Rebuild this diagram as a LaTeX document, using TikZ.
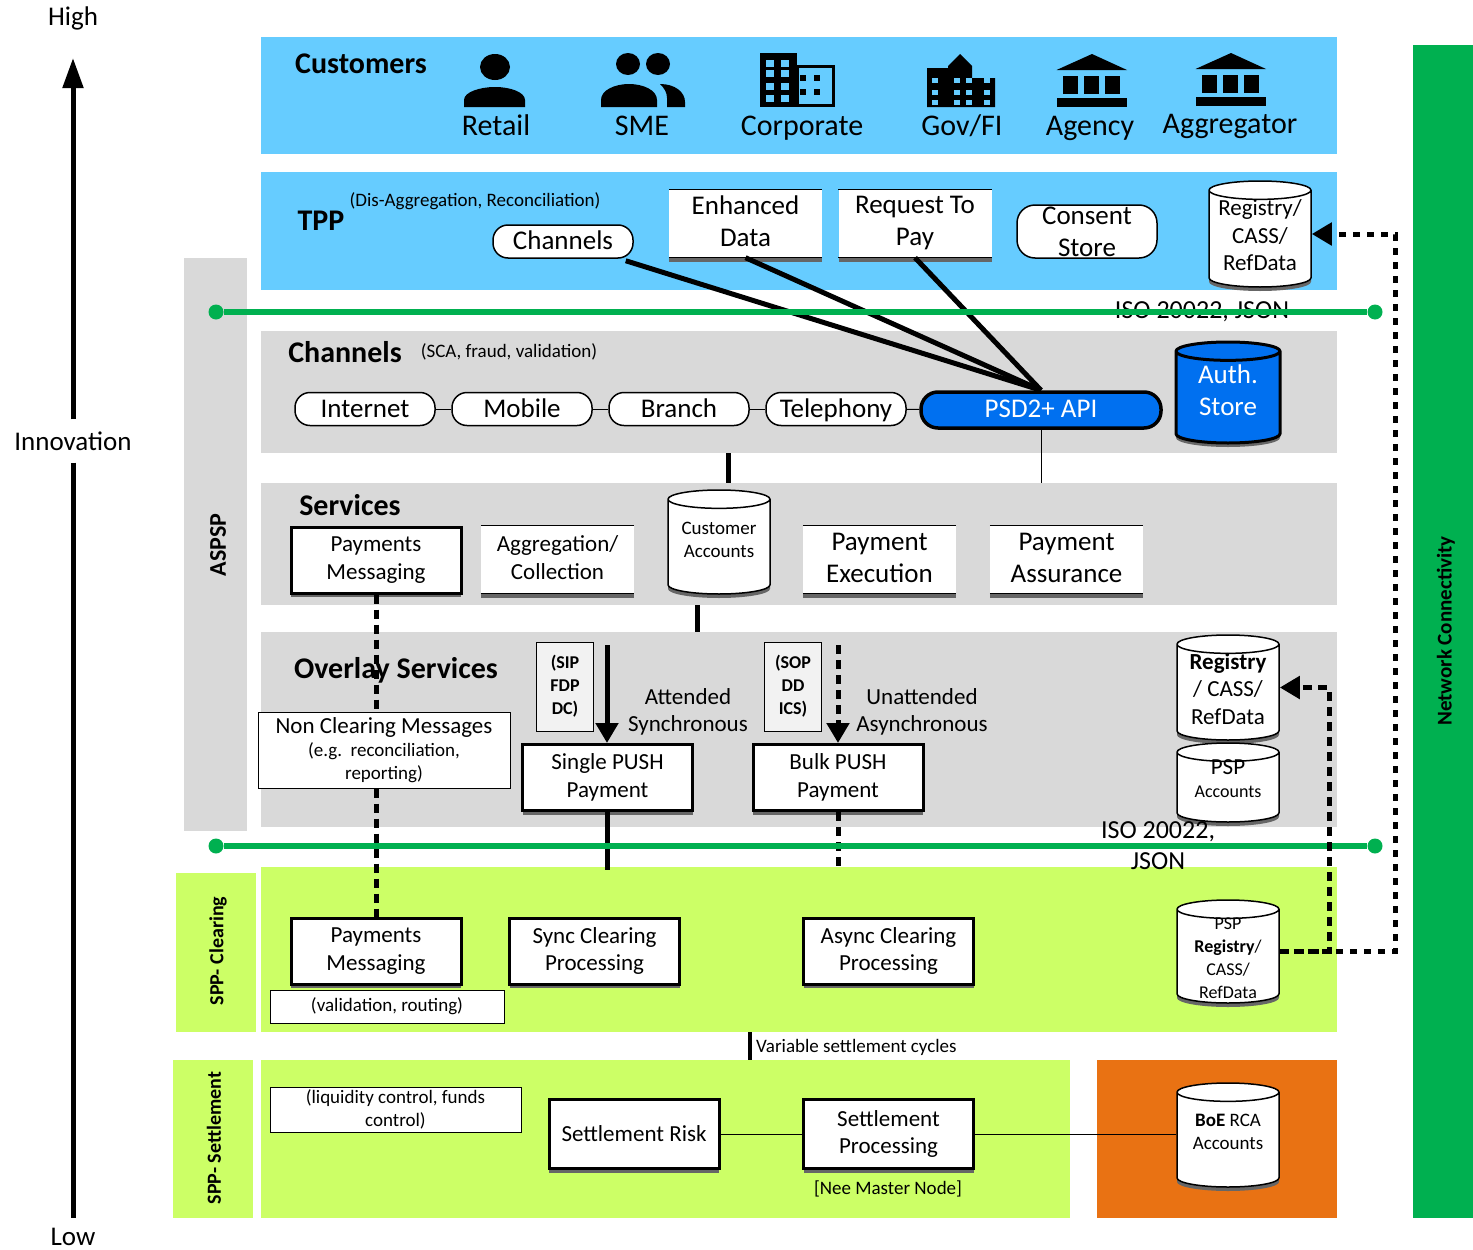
\documentclass[tikz,border=0pt]{standalone}
\usepackage{fontspec}
\setmainfont{Carlito}
\usetikzlibrary{arrows.meta,shapes.geometric,shadows}
\definecolor{skyp}{HTML}{66CCFF}
\definecolor{greyp}{HTML}{D9D9D9}
\definecolor{limep}{HTML}{CCFF66}
\definecolor{netgreen}{HTML}{00B050}
\definecolor{orangep}{HTML}{E97213}
\definecolor{apiblue}{HTML}{0070F0}
\tikzset{
 panel/.style={inner sep=0pt,outer sep=0pt},
 txtl/.style={font=\fontsize{27}{32}\selectfont},
 txtm/.style={font=\fontsize{23}{27.5}\selectfont},
 txts/.style={font=\fontsize{19}{23}\selectfont},
 custname/.style={font=\fontsize{30}{34}\selectfont,text height=20pt,text depth=7pt},
 heading/.style={font=\fontsize{30}{34}\selectfont\bfseries},
 sidelabel/.style={font=\fontsize{21}{24}\selectfont\bfseries,rotate=90},
 botshadow/.style={drop shadow={shadow xshift=0pt,shadow yshift=-4pt,fill=black!60,opacity=1}},
 thickbox/.style={draw,line width=3pt,fill=white,align=center,inner sep=0pt,minimum width=170pt,minimum height=66pt,botshadow,txtm},
 openbox/.style={fill=white,align=center,inner sep=0pt,minimum width=153pt,minimum height=68pt,botshadow,txtl,execute at end node=\rule[-4pt]{0pt}{0pt}},
 notebox/.style={draw,line width=1pt,fill=white,align=center,inner sep=0pt,txts},
 tagbox/.style={draw,line width=1pt,fill=black!5,align=center,inner sep=0pt,minimum width=57pt,minimum height=89pt,font=\fontsize{18}{23}\selectfont\bfseries},
 pillbox/.style={draw,line width=1.5pt,fill=white,rounded corners=15pt,align=center,inner sep=0pt,txtl},
 linepill/.style={pillbox,minimum width=140pt,minimum height=33pt,text height=22pt,text depth=6pt},
 dbcyl/.style={cylinder,anchor=shape center,shape border rotate=90,shape aspect=.18,draw,line width=1.5pt,fill=white,inner sep=0pt,minimum width=102pt,botshadow,execute at begin node=\rule{102pt}{0pt}},
 thinline/.style={line width=1pt},
 heavyline/.style={line width=5pt},
 dashline/.style={line width=5pt,dash pattern=on 9pt off 6pt},
 dotline/.style={line width=5pt,dash pattern=on 7pt off 7pt},
 greenline/.style={line width=5.5pt,netgreen},
 greendot/.style={circle,fill=netgreen,inner sep=0pt,minimum size=15pt},
 >={Triangle[length=20pt,width=22pt]}
}
\begin{document}
\begin{tikzpicture}[x=1pt,y=-1pt]
 \useasboundingbox (0,0) rectangle (1473,1250);
 % panels
 \foreach \pname/\px/\py/\pw/\ph/\pc in {
  custp/799/95.5/1076/117/skyp, tppp/799/231/1076/118/skyp,
  chanp/799/392/1076/122/greyp, svcp/799/544/1076/122/greyp,
  ovlp/799/729.5/1076/195/greyp, aspspp/215.5/544.5/63/573/greyp,
  netp/1443/631.5/60/1173/netgreen, clrsp/216/952.5/80/159/limep,
  clrp/799/949.5/1076/165/limep, setsp/213/1139/80/158/limep,
  setp/665.5/1139/809/158/limep, boep/1217/1139/240/158/orangep}
  \node[panel,fill=\pc,minimum width=\pw pt,minimum height=\ph pt] (\pname) at (\px,\py) {};
 \node[sidelabel,font=\fontsize{24}{28}\selectfont\bfseries] (aspsplab) at (218,545) {ASPSP};
 \node[sidelabel] (netlab) at (1446,631) {Network Connectivity};
 \node[sidelabel,font=\fontsize{20}{24}\selectfont\bfseries] (clrlab) at (218,951) {SPP- Clearing};
 \node[sidelabel,font=\fontsize{20}{24}\selectfont\bfseries] (setlab) at (214,1138) {SPP- Settlement};
 % axis
 \node[txtl] (high) at (73,18) {High};
 \node[txtl,inner ysep=12pt] (innov) at (73,441) {Innovation};
 \node[txtl] (low) at (73,1237) {Low};
 \coordinate (axistop) at (73,58);
 \coordinate (axisend) at (73,1218);
 \draw[line width=5pt,-{Triangle[length=30pt,width=20pt]}] (innov) -- (axistop);
 \draw[line width=5pt] (innov) -- (axisend);
 % customers
 \node[heading] (custlab) at (361,64) {Customers};
 \node[custname] (retail) at (496,128.5) {Retail};
 \node[custname] (sme) at (642,128.5) {SME};
 \node[custname] (corp) at (802,128.5) {Corporate};
 \node[custname] (gov) at (962,128.5) {Gov/FI};
 \node[custname] (agency) at (1090,128.5) {Agency};
 \node[custname] (aggr) at (1230,126.5) {Aggregator};
 % icons
 \fill (495,67) ellipse (15 and 13);
 \fill (464,107) -- (464,100) .. controls (464,92) and (480,87) .. (495,87) .. controls (510,87) and (525,92) .. (525,100) -- (525,107) -- cycle;
 \fill (628,64) ellipse (12 and 11);
 \fill (658,64) ellipse (12 and 11);
 \fill (601,107) -- (601,100) .. controls (601,90) and (615,84) .. (629,84) .. controls (643,84) and (657,90) .. (657,100) -- (657,107) -- cycle;
 \fill (660,84) .. controls (675,84) and (685,92) .. (685,102) -- (685,107) -- (667,107) -- (667,98) .. controls (667,92) and (664,88) .. (660,84) -- cycle;
 \fill (760,53) rectangle (797,107);
 \draw[line width=3pt] (797,66.5) rectangle (833.5,105.5);
 \foreach \wy in {60,70,83,95} \foreach \wx in {766,781}
  \fill[skyp] (\wx,\wy) rectangle +(8,7);
 \foreach \wy in {75,89} \foreach \wx in {800,814}
  \fill (\wx,\wy) rectangle +(6,6);
 \fill (927,68) -- (948,68) -- (948,66) -- (960,54) -- (972,66) -- (972,78) -- (995,78) -- (995,107) -- (927,107) -- cycle;
 \foreach \wy in {78,90,100} \foreach \wx in {932,954,966,984}
  \fill[skyp] (\wx,\wy) rectangle +(6,5);
 \foreach \bx/\by in {0/0,139/-1} {
  \begin{scope}[shift={(\bx,\by)}]
   \fill (1056.5,70) -- (1092,54) -- (1127,70) -- cycle;
   \foreach \cx in {1063,1084,1105} \fill (\cx,76) rectangle +(15,18);
   \fill (1056.5,98) rectangle (1127,107);
  \end{scope}
 }
 % tpp
 \node[heading] (tpplab) at (321,221) {TPP};
 \node[txts] (tppnote) at (475,201) {(Dis-Aggregation, Reconciliation)};
 \node[linepill] (chan) at (563,241.5) {Channels};
 \node[openbox] (enh) at (745.5,223.5) {Enhanced\\Data};
 \node[openbox] (req) at (915,223.5) {Request To\\Pay};
 \node[pillbox,minimum width=140pt,minimum height=53pt,rounded corners=18pt] (cons) at (1087,231.5) {Consent\\Store};
 \node[dbcyl,minimum height=106pt,label={[align=center,txtm,yshift=3.5pt]center:Registry/\\CASS/\\RefData}] (tppreg) at (1260,234) {};
 % channels
 \node[heading] (chanlab) at (345,352) {Channels};
 \node[txts] (channote) at (509,352) {(SCA, fraud, validation)};
 \node[linepill] (inet) at (365,409) {Internet};
 \node[linepill] (mob) at (522,409) {Mobile};
 \node[linepill] (branch) at (679,409) {Branch};
 \node[linepill] (tel) at (836,409) {Telephony};
 \node[pillbox,draw,line width=3.5pt,fill=apiblue,text=white,minimum width=240pt,minimum height=36pt,rounded corners=17pt,text height=20pt,text depth=6pt] (psd) at (1041,410) {PSD2+ API};
 \node[dbcyl,minimum height=101pt,minimum width=104pt,fill=apiblue,line width=3pt,label={[align=center,txtl,text=white,yshift=7.5pt]center:Auth.\\Store}] (auth) at (1228,392.5) {};
 \draw[thinline] (inet) -- (mob);
 \draw[thinline] (mob) -- (branch);
 \draw[thinline] (branch) -- (tel);
 \draw[thinline] (tel) -- (psd);
 \coordinate (apidrop) at (1041,483);
 \draw[thinline] (psd.south) -- (apidrop);
 \coordinate (chanbot) at (728,453);
 \coordinate (svctop) at (728,483);
 \draw[heavyline] (chanbot) -- (svctop);
 \coordinate (svcbot) at (697,605);
 \coordinate (ovltop) at (697,632);
 \draw[heavyline] (svcbot) -- (ovltop);
 % tpp to api, then the first iso line over them
 \draw[heavyline] ([xshift=-8pt,yshift=-2pt]chan.south east) -- (psd.north);
 \draw[heavyline] (enh.south) -- (psd.north);
 \draw[heavyline] (req.south) -- (psd.north);
 \node[font=\fontsize{26}{31}\selectfont] (iso1) at (1202,311.5) {ISO 20022, JSON};
 \node[greendot] (g1a) at (216,312) {};
 \node[greendot] (g1b) at (1375,312) {};
 \draw[greenline] (g1a) -- (g1b);
 % services
 \node[heading] (svclab) at (350,505) {Services};
 \node[thickbox] (pay1) at (376,560) {Payments\\Messaging};
 \node[openbox,txtm] (aggc) at (557.5,559.5) {Aggregation/\\Collection};
 \node[dbcyl,minimum height=104pt,label={[align=center,txts,yshift=7.5pt]center:Customer\\Accounts}] (custacc) at (719,542) {};
 \node[openbox] (exec) at (879.5,559.5) {Payment\\Execution};
 \node[openbox] (assur) at (1066.5,559.5) {Payment\\Assurance};
 \foreach \boxn in {enh,req,aggc,exec,assur} {
  \draw[line width=1.5pt] (\boxn.north west) -- (\boxn.north east);
  \draw[line width=1.5pt] (\boxn.south west) -- (\boxn.south east);
 }
 % overlay
 \node[heading] (ovllab) at (396,670) {Overlay Services};
 \node[notebox,minimum width=252pt,minimum height=76pt] (ncm) at (384,750) {{\fontsize{23}{25}\selectfont Non Clearing Messages}\\(e.g.\ \ reconciliation,\\reporting)};
 \node[tagbox] (sip) at (565,686.5) {(SIP\\FDP\\DC)};
 \node[tagbox] (sop) at (793,686.5) {(SOP\\DD\\ICS)};
 \node[txtm,align=center] (sync) at (688,712) {Attended\\Synchronous};
 \node[txtm,align=center] (async) at (922,712) {Unattended\\Asynchronous};
 \node[thickbox] (single) at (607.5,777.5) {Single PUSH\\Payment};
 \node[thickbox] (bulk) at (838,777.5) {Bulk PUSH\\Payment};
 \node[dbcyl,minimum height=105pt,label={[align=center,txtm,yshift=3.5pt]center:\textbf{Registry}\\/ CASS/\\RefData}] (ovlreg) at (1228,687.5) {};
 \node[dbcyl,minimum height=79pt,label={[align=center,font=\fontsize{18}{23}\selectfont,yshift=8.5pt]center:{\fontsize{23}{25}\selectfont PSP}\\Accounts}] (pspacc) at (1228,782.5) {};
 \coordinate (sipstart) at (607,645);
 \coordinate (sopstart) at (838,645);
 \draw[heavyline,->] (sipstart) -- (single.north -| sipstart);
 \draw[dashline,->] (sopstart) -- (bulk.north);
 % clearing
 \node[thickbox] (pay2) at (376,951) {Payments\\Messaging};
 \node[notebox,minimum width=234pt,minimum height=33pt] (valid) at (387,1006.5) {(validation, routing)};
 \node[thickbox] (syncclr) at (594.5,951) {Sync Clearing\\Processing};
 \node[thickbox] (asyncclr) at (888.5,951) {Async Clearing\\Processing};
 \node[dbcyl,minimum height=103pt,label={[align=center,font=\fontsize{18}{23}\selectfont,yshift=-1.5pt]center:PSP\\\textbf{Registry}/\\CASS/\\RefData}] (pspreg) at (1228,951.5) {};
 \coordinate (singleend) at (607,870);
 \coordinate (bulkend) at (838,867);
 \draw[heavyline] (single.south -| singleend) -- (singleend);
 \draw[dashline] (bulk.south) -- (bulkend);
 \draw[dashline] (pay1.south) -- (pay1.south |- ncm.north);
 \draw[dashline] (pay1.south |- ncm.south) -- (pay2.north);
 \node[font=\fontsize{26}{31}\selectfont,align=center] (iso2) at (1158,846) {ISO 20022,\\JSON};
 \node[greendot] (g2a) at (216,846) {};
 \node[greendot] (g2b) at (1375,846) {};
 \draw[greenline] (g2a) -- (g2b);
 % registry links
 \coordinate (innerturn) at (1329,687.5);
 \coordinate (outerturn) at (1395,234);
 \draw[dashline,->] (pspreg.shape center -| pspreg.east) -| (innerturn) -- (ovlreg.shape center -| ovlreg.east);
 \draw[dotline,->] (pspreg.shape center -| pspreg.east) -| (outerturn) -- (tppreg.shape center -| tppreg.east);
 % settlement
 \coordinate (clrbot) at (750,1032);
 \coordinate (settop) at (750,1060);
 \draw[line width=4pt] (clrbot) -- (settop);
 \node[txts,anchor=west,inner sep=0pt] (cycles) at (756,1047) {Variable settlement cycles};
 \node[notebox,minimum width=251pt,minimum height=45pt] (liq) at (395.5,1109.5) {(liquidity control, funds\\control)};
 \node[thickbox,minimum height=69pt] (risk) at (634,1134) {Settlement Risk};
 \node[thickbox,minimum height=69pt] (setproc) at (888.5,1134) {Settlement\\Processing};
 \node[txts] (nee) at (888,1189) {[Nee Master Node]};
 \node[dbcyl,minimum height=104pt,label={[align=center,txts,yshift=8pt]center:\textbf{BoE} RCA\\Accounts}] (boe) at (1228,1135) {};
 \draw[thinline] (risk) -- (setproc);
 \draw[thinline] (setproc) -- (setproc -| boe.west);
\end{tikzpicture}
\end{document}
